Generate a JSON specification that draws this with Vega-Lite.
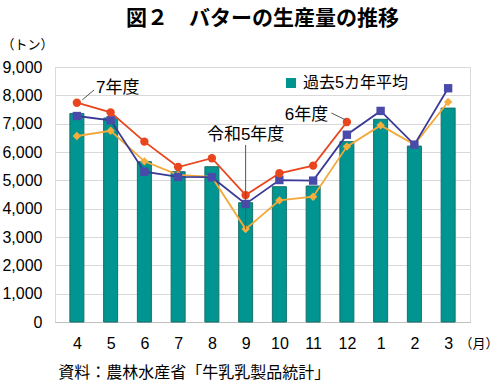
{
  "$schema": "https://vega.github.io/schema/vega-lite/v6.json",
  "width": 415,
  "height": 255,
  "autosize": {"type": "none"},
  "padding": {"left": 55, "top": 67, "right": 30, "bottom": 61},
  "background": "white",
  "title": {"text": "図２　バターの生産量の推移", "font": "Noto Sans CJK JP", "fontSize": 21, "fontWeight": "bold", "color": "#000000", "anchor": "middle", "frame": "group", "offset": 9},
  "config": {"view": {"stroke": "#d9d9d9"}, "font": "Liberation Sans, Noto Sans CJK JP"},
  "datasets": {
    "avg": [
      {"i": 0, "month": "4", "series": "過去5カ年平均", "value": 7360},
      {"i": 1, "month": "5", "series": "過去5カ年平均", "value": 7200},
      {"i": 2, "month": "6", "series": "過去5カ年平均", "value": 5660},
      {"i": 3, "month": "7", "series": "過去5カ年平均", "value": 5305},
      {"i": 4, "month": "8", "series": "過去5カ年平均", "value": 5480},
      {"i": 5, "month": "9", "series": "過去5カ年平均", "value": 4210},
      {"i": 6, "month": "10", "series": "過去5カ年平均", "value": 4775},
      {"i": 7, "month": "11", "series": "過去5カ年平均", "value": 4800},
      {"i": 8, "month": "12", "series": "過去5カ年平均", "value": 6365},
      {"i": 9, "month": "1", "series": "過去5カ年平均", "value": 7155},
      {"i": 10, "month": "2", "series": "過去5カ年平均", "value": 6210},
      {"i": 11, "month": "3", "series": "過去5カ年平均", "value": 7550}
    ],
    "lines": [
      {"i": 0, "series": "令和5年度", "value": 6565},
      {"i": 1, "series": "令和5年度", "value": 6750},
      {"i": 2, "series": "令和5年度", "value": 5670},
      {"i": 3, "series": "令和5年度", "value": 5190},
      {"i": 4, "series": "令和5年度", "value": 5120},
      {"i": 5, "series": "令和5年度", "value": 3280},
      {"i": 6, "series": "令和5年度", "value": 4295},
      {"i": 7, "series": "令和5年度", "value": 4420},
      {"i": 8, "series": "令和5年度", "value": 6190},
      {"i": 9, "series": "令和5年度", "value": 6940},
      {"i": 10, "series": "令和5年度", "value": 6260},
      {"i": 11, "series": "令和5年度", "value": 7765},
      {"i": 0, "series": "6年度", "value": 7270},
      {"i": 1, "series": "6年度", "value": 7120},
      {"i": 2, "series": "6年度", "value": 5305},
      {"i": 3, "series": "6年度", "value": 5120},
      {"i": 4, "series": "6年度", "value": 5110},
      {"i": 5, "series": "6年度", "value": 4165},
      {"i": 6, "series": "6年度", "value": 5010},
      {"i": 7, "series": "6年度", "value": 4990},
      {"i": 8, "series": "6年度", "value": 6610},
      {"i": 9, "series": "6年度", "value": 7450},
      {"i": 10, "series": "6年度", "value": 6260},
      {"i": 11, "series": "6年度", "value": 8250},
      {"i": 0, "series": "7年度", "value": 7740},
      {"i": 1, "series": "7年度", "value": 7400},
      {"i": 2, "series": "7年度", "value": 6365},
      {"i": 3, "series": "7年度", "value": 5470},
      {"i": 4, "series": "7年度", "value": 5780},
      {"i": 5, "series": "7年度", "value": 4480},
      {"i": 6, "series": "7年度", "value": 5250},
      {"i": 7, "series": "7年度", "value": 5520},
      {"i": 8, "series": "7年度", "value": 7060}
    ]
  },
  "layer": [
    {
      "data": {"name": "avg"},
      "mark": {"type": "bar", "size": 14, "stroke": "#16706b", "strokeWidth": 1},
      "encoding": {
        "x": {
          "field": "i", "type": "quantitative",
          "scale": {"domain": [-0.5, 11.5], "nice": false, "zero": false},
          "axis": {"values": [0, 1, 2, 3, 4, 5, 6, 7, 8, 9, 10, 11], "labelExpr": "['4','5','6','7','8','9','10','11','12','1','2','3'][datum.value]", "labelOverlap": false, "ticks": false, "tickSize": 0, "grid": false, "domainColor": "#bfbfbf", "labelFontSize": 16, "labelColor": "#000000", "labelBaseline": "middle", "labelPadding": 21, "title": "（月）", "titleX": 443, "titleY": 21, "titleAlign": "right", "titleBaseline": "middle", "titleFontSize": 13, "titleFontWeight": "normal", "titleColor": "#000000"}
        },
        "y": {
          "field": "value", "type": "quantitative",
          "scale": {"domain": [0, 9000], "nice": false},
          "axis": {"values": [0, 1000, 2000, 3000, 4000, 5000, 6000, 7000, 8000, 9000], "format": ",d", "labelOverlap": false, "ticks": false, "tickSize": 0, "domain": false, "gridColor": "#d9d9d9", "labelFontSize": 16, "labelColor": "#000000", "labelPadding": 13, "title": "（トン）", "titleAngle": 0, "titleX": -54, "titleY": -23, "titleAlign": "left", "titleBaseline": "middle", "titleFontSize": 13, "titleFontWeight": "normal", "titleColor": "#000000"}
        },
        "color": {
          "field": "series", "type": "nominal",
          "scale": {"range": ["#009590"]},
          "legend": {"title": null, "orient": "none", "legendX": 228, "legendY": 8, "symbolType": "square", "symbolSize": 100, "symbolStrokeWidth": 0, "labelFontSize": 16, "labelColor": "#000000", "labelFont": "Liberation Sans, Noto Sans CJK JP"}
        }
      }
    },
    {
      "data": {"name": "lines"},
      "mark": {"type": "line", "strokeWidth": 1.8},
      "encoding": {
        "x": {"field": "i", "type": "quantitative", "axis": {"values": [0, 1, 2, 3, 4, 5, 6, 7, 8, 9, 10, 11], "labelExpr": "['4','5','6','7','8','9','10','11','12','1','2','3'][datum.value]", "labelOverlap": false, "ticks": false, "tickSize": 0, "grid": false, "domainColor": "#bfbfbf", "labelFontSize": 16, "labelColor": "#000000", "labelBaseline": "middle", "labelPadding": 21, "title": "（月）", "titleX": 443, "titleY": 21, "titleAlign": "right", "titleBaseline": "middle", "titleFontSize": 13, "titleFontWeight": "normal", "titleColor": "#000000"}},
        "y": {"field": "value", "type": "quantitative", "axis": {"values": [0, 1000, 2000, 3000, 4000, 5000, 6000, 7000, 8000, 9000], "format": ",d", "labelOverlap": false, "ticks": false, "tickSize": 0, "domain": false, "gridColor": "#d9d9d9", "labelFontSize": 16, "labelColor": "#000000", "labelPadding": 13, "title": "（トン）", "titleAngle": 0, "titleX": -54, "titleY": -23, "titleAlign": "left", "titleBaseline": "middle", "titleFontSize": 13, "titleFontWeight": "normal", "titleColor": "#000000"}},
        "color": {"field": "series", "type": "nominal", "scale": {"domain": ["令和5年度", "6年度", "7年度"], "range": ["#f2a93a", "#3a3a96", "#e9461f"]}, "legend": null}
      }
    },
    {
      "data": {"name": "lines"},
      "mark": {"type": "point", "filled": true, "size": 70, "opacity": 1},
      "encoding": {
        "x": {"field": "i", "type": "quantitative", "axis": {"values": [0, 1, 2, 3, 4, 5, 6, 7, 8, 9, 10, 11], "labelExpr": "['4','5','6','7','8','9','10','11','12','1','2','3'][datum.value]", "labelOverlap": false, "ticks": false, "tickSize": 0, "grid": false, "domainColor": "#bfbfbf", "labelFontSize": 16, "labelColor": "#000000", "labelBaseline": "middle", "labelPadding": 21, "title": "（月）", "titleX": 443, "titleY": 21, "titleAlign": "right", "titleBaseline": "middle", "titleFontSize": 13, "titleFontWeight": "normal", "titleColor": "#000000"}},
        "y": {"field": "value", "type": "quantitative", "axis": {"values": [0, 1000, 2000, 3000, 4000, 5000, 6000, 7000, 8000, 9000], "format": ",d", "labelOverlap": false, "ticks": false, "tickSize": 0, "domain": false, "gridColor": "#d9d9d9", "labelFontSize": 16, "labelColor": "#000000", "labelPadding": 13, "title": "（トン）", "titleAngle": 0, "titleX": -54, "titleY": -23, "titleAlign": "left", "titleBaseline": "middle", "titleFontSize": 13, "titleFontWeight": "normal", "titleColor": "#000000"}},
        "color": {"field": "series", "type": "nominal", "scale": {"domain": ["令和5年度", "6年度", "7年度"], "range": ["#f5ae3c", "#4a4aaa", "#e9461f"]}, "legend": null},
        "shape": {"field": "series", "type": "nominal", "scale": {"domain": ["令和5年度", "6年度", "7年度"], "range": ["diamond", "square", "circle"]}, "legend": null}
      }
    },
    {
      "data": {"values": [{"note": "7年度"}, {"note": "6年度"}, {"note": "令和5年度"}, {"note": "資料：農林水産省「牛乳乳製品統計」"}]},
      "layer": [
        {
          "transform": [{"filter": "datum.note === '7年度'"}],
          "mark": {"type": "rule", "color": "#555555", "strokeWidth": 1},
          "encoding": {"x": {"datum": 0.51, "type": "quantitative", "axis": {"values": [0, 1, 2, 3, 4, 5, 6, 7, 8, 9, 10, 11], "labelExpr": "['4','5','6','7','8','9','10','11','12','1','2','3'][datum.value]", "labelOverlap": false, "ticks": false, "tickSize": 0, "grid": false, "domainColor": "#bfbfbf", "labelFontSize": 16, "labelColor": "#000000", "labelBaseline": "middle", "labelPadding": 21, "title": "（月）", "titleX": 443, "titleY": 21, "titleAlign": "right", "titleBaseline": "middle", "titleFontSize": 13, "titleFontWeight": "normal", "titleColor": "#000000"}}, "y": {"datum": 8190, "type": "quantitative", "axis": {"values": [0, 1000, 2000, 3000, 4000, 5000, 6000, 7000, 8000, 9000], "format": ",d", "labelOverlap": false, "ticks": false, "tickSize": 0, "domain": false, "gridColor": "#d9d9d9", "labelFontSize": 16, "labelColor": "#000000", "labelPadding": 13, "title": "（トン）", "titleAngle": 0, "titleX": -54, "titleY": -23, "titleAlign": "left", "titleBaseline": "middle", "titleFontSize": 13, "titleFontWeight": "normal", "titleColor": "#000000"}}, "x2": {"datum": 0.16}, "y2": {"datum": 7840}}
        },
        {
          "transform": [{"filter": "datum.note === '6年度'"}],
          "mark": {"type": "rule", "color": "#555555", "strokeWidth": 1},
          "encoding": {"x": {"datum": 7.54, "type": "quantitative", "axis": {"values": [0, 1, 2, 3, 4, 5, 6, 7, 8, 9, 10, 11], "labelExpr": "['4','5','6','7','8','9','10','11','12','1','2','3'][datum.value]", "labelOverlap": false, "ticks": false, "tickSize": 0, "grid": false, "domainColor": "#bfbfbf", "labelFontSize": 16, "labelColor": "#000000", "labelBaseline": "middle", "labelPadding": 21, "title": "（月）", "titleX": 443, "titleY": 21, "titleAlign": "right", "titleBaseline": "middle", "titleFontSize": 13, "titleFontWeight": "normal", "titleColor": "#000000"}}, "y": {"datum": 7375, "type": "quantitative", "axis": {"values": [0, 1000, 2000, 3000, 4000, 5000, 6000, 7000, 8000, 9000], "format": ",d", "labelOverlap": false, "ticks": false, "tickSize": 0, "domain": false, "gridColor": "#d9d9d9", "labelFontSize": 16, "labelColor": "#000000", "labelPadding": 13, "title": "（トン）", "titleAngle": 0, "titleX": -54, "titleY": -23, "titleAlign": "left", "titleBaseline": "middle", "titleFontSize": 13, "titleFontWeight": "normal", "titleColor": "#000000"}}, "x2": {"datum": 7.95}, "y2": {"datum": 7140}}
        },
        {
          "transform": [{"filter": "datum.note === '令和5年度'"}],
          "mark": {"type": "rule", "color": "#555555", "strokeWidth": 1},
          "encoding": {"x": {"datum": 5, "type": "quantitative", "axis": {"values": [0, 1, 2, 3, 4, 5, 6, 7, 8, 9, 10, 11], "labelExpr": "['4','5','6','7','8','9','10','11','12','1','2','3'][datum.value]", "labelOverlap": false, "ticks": false, "tickSize": 0, "grid": false, "domainColor": "#bfbfbf", "labelFontSize": 16, "labelColor": "#000000", "labelBaseline": "middle", "labelPadding": 21, "title": "（月）", "titleX": 443, "titleY": 21, "titleAlign": "right", "titleBaseline": "middle", "titleFontSize": 13, "titleFontWeight": "normal", "titleColor": "#000000"}}, "y": {"datum": 6250, "type": "quantitative", "axis": {"values": [0, 1000, 2000, 3000, 4000, 5000, 6000, 7000, 8000, 9000], "format": ",d", "labelOverlap": false, "ticks": false, "tickSize": 0, "domain": false, "gridColor": "#d9d9d9", "labelFontSize": 16, "labelColor": "#000000", "labelPadding": 13, "title": "（トン）", "titleAngle": 0, "titleX": -54, "titleY": -23, "titleAlign": "left", "titleBaseline": "middle", "titleFontSize": 13, "titleFontWeight": "normal", "titleColor": "#000000"}}, "y2": {"datum": 3280}}
        },
        {
          "transform": [{"filter": "datum.note === '7年度'"}],
          "mark": {"type": "text", "align": "left", "baseline": "middle", "fontSize": 17, "color": "#000000"},
          "encoding": {"x": {"datum": 0.57, "type": "quantitative", "axis": {"values": [0, 1, 2, 3, 4, 5, 6, 7, 8, 9, 10, 11], "labelExpr": "['4','5','6','7','8','9','10','11','12','1','2','3'][datum.value]", "labelOverlap": false, "ticks": false, "tickSize": 0, "grid": false, "domainColor": "#bfbfbf", "labelFontSize": 16, "labelColor": "#000000", "labelBaseline": "middle", "labelPadding": 21, "title": "（月）", "titleX": 443, "titleY": 21, "titleAlign": "right", "titleBaseline": "middle", "titleFontSize": 13, "titleFontWeight": "normal", "titleColor": "#000000"}}, "y": {"datum": 8270, "type": "quantitative", "axis": {"values": [0, 1000, 2000, 3000, 4000, 5000, 6000, 7000, 8000, 9000], "format": ",d", "labelOverlap": false, "ticks": false, "tickSize": 0, "domain": false, "gridColor": "#d9d9d9", "labelFontSize": 16, "labelColor": "#000000", "labelPadding": 13, "title": "（トン）", "titleAngle": 0, "titleX": -54, "titleY": -23, "titleAlign": "left", "titleBaseline": "middle", "titleFontSize": 13, "titleFontWeight": "normal", "titleColor": "#000000"}}, "text": {"field": "note"}}
        },
        {
          "transform": [{"filter": "datum.note === '6年度'"}],
          "mark": {"type": "text", "align": "right", "baseline": "middle", "fontSize": 17, "color": "#000000"},
          "encoding": {"x": {"datum": 7.45, "type": "quantitative", "axis": {"values": [0, 1, 2, 3, 4, 5, 6, 7, 8, 9, 10, 11], "labelExpr": "['4','5','6','7','8','9','10','11','12','1','2','3'][datum.value]", "labelOverlap": false, "ticks": false, "tickSize": 0, "grid": false, "domainColor": "#bfbfbf", "labelFontSize": 16, "labelColor": "#000000", "labelBaseline": "middle", "labelPadding": 21, "title": "（月）", "titleX": 443, "titleY": 21, "titleAlign": "right", "titleBaseline": "middle", "titleFontSize": 13, "titleFontWeight": "normal", "titleColor": "#000000"}}, "y": {"datum": 7305, "type": "quantitative", "axis": {"values": [0, 1000, 2000, 3000, 4000, 5000, 6000, 7000, 8000, 9000], "format": ",d", "labelOverlap": false, "ticks": false, "tickSize": 0, "domain": false, "gridColor": "#d9d9d9", "labelFontSize": 16, "labelColor": "#000000", "labelPadding": 13, "title": "（トン）", "titleAngle": 0, "titleX": -54, "titleY": -23, "titleAlign": "left", "titleBaseline": "middle", "titleFontSize": 13, "titleFontWeight": "normal", "titleColor": "#000000"}}, "text": {"field": "note"}}
        },
        {
          "transform": [{"filter": "datum.note === '令和5年度'"}],
          "mark": {"type": "text", "align": "center", "baseline": "middle", "fontSize": 17, "color": "#000000"},
          "encoding": {"x": {"datum": 5, "type": "quantitative", "axis": {"values": [0, 1, 2, 3, 4, 5, 6, 7, 8, 9, 10, 11], "labelExpr": "['4','5','6','7','8','9','10','11','12','1','2','3'][datum.value]", "labelOverlap": false, "ticks": false, "tickSize": 0, "grid": false, "domainColor": "#bfbfbf", "labelFontSize": 16, "labelColor": "#000000", "labelBaseline": "middle", "labelPadding": 21, "title": "（月）", "titleX": 443, "titleY": 21, "titleAlign": "right", "titleBaseline": "middle", "titleFontSize": 13, "titleFontWeight": "normal", "titleColor": "#000000"}}, "y": {"datum": 6600, "type": "quantitative", "axis": {"values": [0, 1000, 2000, 3000, 4000, 5000, 6000, 7000, 8000, 9000], "format": ",d", "labelOverlap": false, "ticks": false, "tickSize": 0, "domain": false, "gridColor": "#d9d9d9", "labelFontSize": 16, "labelColor": "#000000", "labelPadding": 13, "title": "（トン）", "titleAngle": 0, "titleX": -54, "titleY": -23, "titleAlign": "left", "titleBaseline": "middle", "titleFontSize": 13, "titleFontWeight": "normal", "titleColor": "#000000"}}, "text": {"field": "note"}}
        },
        {
          "transform": [{"filter": "datum.note === '資料：農林水産省「牛乳乳製品統計」'"}],
          "mark": {"type": "text", "align": "left", "baseline": "middle", "fontSize": 16, "color": "#000000"},
          "encoding": {"x": {"datum": -0.55, "type": "quantitative", "axis": {"values": [0, 1, 2, 3, 4, 5, 6, 7, 8, 9, 10, 11], "labelExpr": "['4','5','6','7','8','9','10','11','12','1','2','3'][datum.value]", "labelOverlap": false, "ticks": false, "tickSize": 0, "grid": false, "domainColor": "#bfbfbf", "labelFontSize": 16, "labelColor": "#000000", "labelBaseline": "middle", "labelPadding": 21, "title": "（月）", "titleX": 443, "titleY": 21, "titleAlign": "right", "titleBaseline": "middle", "titleFontSize": 13, "titleFontWeight": "normal", "titleColor": "#000000"}}, "y": {"datum": -1800, "type": "quantitative", "axis": {"values": [0, 1000, 2000, 3000, 4000, 5000, 6000, 7000, 8000, 9000], "format": ",d", "labelOverlap": false, "ticks": false, "tickSize": 0, "domain": false, "gridColor": "#d9d9d9", "labelFontSize": 16, "labelColor": "#000000", "labelPadding": 13, "title": "（トン）", "titleAngle": 0, "titleX": -54, "titleY": -23, "titleAlign": "left", "titleBaseline": "middle", "titleFontSize": 13, "titleFontWeight": "normal", "titleColor": "#000000"}}, "text": {"field": "note"}}
        }
      ]
    }
  ],
  "resolve": {"scale": {"color": "independent", "shape": "independent"}}
}
